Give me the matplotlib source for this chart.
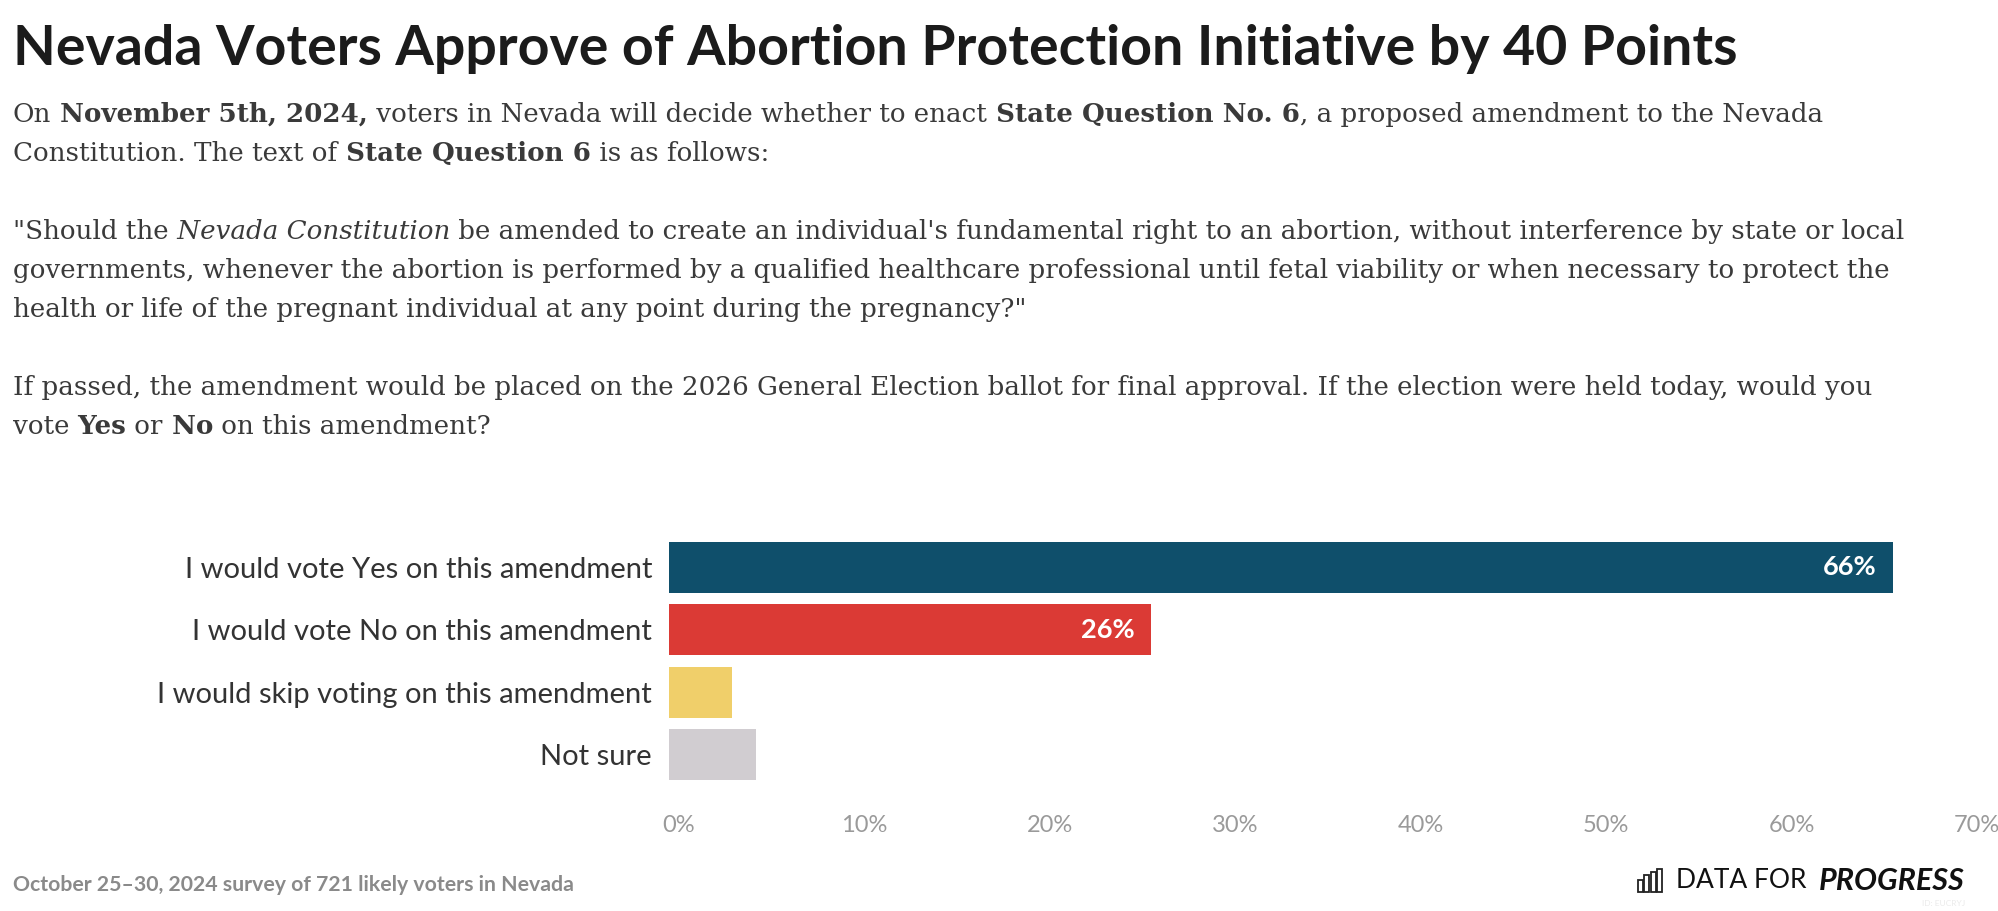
import matplotlib
matplotlib.use("Agg")
import matplotlib.pyplot as plt
from matplotlib.patches import Rectangle
from matplotlib.transforms import ScaledTranslation

# ---- data ----
categories = [
    "I would vote Yes on this amendment",
    "I would vote No on this amendment",
    "I would skip voting on this amendment",
    "Not sure",
]
values = [66, 26, 3.4, 4.7]
value_labels = ["66%", "26%", "", ""]
bar_colors = ["#0f4f6b", "#db3a35", "#f0cf6a", "#d1cdd1"]
xticks = [0, 10, 20, 30, 40, 50, 60, 70]
xtick_labels = [f"{t}%" for t in xticks]

title = "Nevada Voters Approve of Abortion Protection Initiative by 40 Points"
# intro text as runs of (text, style); None is a blank line
intro_lines = [
    [("On", "n"), (" November 5th, 2024,", "b"),
     (" voters in Nevada will decide whether to enact", "n"),
     (" State Question No. 6", "b"), (", a proposed amendment to the Nevada", "n")],
    [("Constitution. The text of", "n"), (" State Question 6", "b"), (" is as follows:", "n")],
    None,
    [("\"Should the", "n"), (" Nevada Constitution", "i"),
     (" be amended to create an individual's fundamental right to an abortion, without interference by state or local", "n")],
    [("governments, whenever the abortion is performed by a qualified healthcare professional until fetal viability or when necessary to protect the", "n")],
    [("health or life of the pregnant individual at any point during the pregnancy?\"", "n")],
    None,
    [("If passed, the amendment would be placed on the 2026 General Election ballot for final approval. If the election were held today, would you", "n")],
    [("vote", "n"), (" Yes", "b"), (" or", "n"), (" No", "b"), (" on this amendment?", "n")],
]
footer = "October 25\u201330, 2024 survey of 721 likely voters in Nevada"

# ---- figure ----
W, H = 1999, 911
fig = plt.figure(figsize=(W / 100, H / 100), dpi=100)
fig.patch.set_facecolor("white")
renderer = fig.canvas.get_renderer()

SANS = "Lato"
SERIF = "DejaVu Serif"

fig.text(13 / W, 1 - 65 / H, title, fontsize=40, fontweight="bold",
         family=SANS, color="#1b1b1b", va="baseline", ha="left")

# intro paragraph, each run placed after the previous one
styles = {"n": dict(fontweight="normal", fontstyle="normal"),
          "b": dict(fontweight="bold", fontstyle="normal"),
          "i": dict(fontweight="normal", fontstyle="italic")}
for k, line in enumerate(intro_lines):
    if line is None:
        continue
    x = 13
    base = 122 + 39 * k
    for seg, st in line:
        t = fig.text(x / W, 1 - base / H, seg, fontsize=18.8, family=SERIF,
                     color="#3a3a3a", va="baseline", ha="left", **styles[st])
        x += t.get_window_extent(renderer).width

# ---- bar chart ----
ax_left, ax_right = 668.7, 1967
ax_top, ax_bot = 536.3, 785.5
ax = fig.add_axes([ax_left / W, 1 - ax_bot / H, (ax_right - ax_left) / W, (ax_bot - ax_top) / H])
ypos = list(range(len(categories)))
ax.barh(ypos, values, height=0.82, color=bar_colors)
ax.set_xlim(0, 70)
ax.set_ylim(len(categories) - 0.5, -0.5)
ax.set_yticks(ypos)
ax.set_yticklabels(categories, fontsize=21, family=SANS, color="#333333")
ax.set_xticks(xticks)
ax.set_xticklabels(xtick_labels, fontsize=17, family=SANS, color="#9a9a9a")
ax.tick_params(axis="y", length=0, pad=12)
ax.tick_params(axis="x", length=0, pad=21)
shift = ScaledTranslation(0.1, 0, fig.dpi_scale_trans)
for lab in ax.get_xticklabels():
    lab.set_transform(lab.get_transform() + shift)
for s in ax.spines.values():
    s.set_visible(False)

for y, v, lab in zip(ypos, values, value_labels):
    if lab:
        ax.annotate(lab, xy=(v, y), xytext=(-12, 0), textcoords="offset points",
                    ha="right", va="center", fontsize=19.5, fontweight="bold",
                    family=SANS, color="white")

# ---- footer ----
fig.text(13 / W, 1 - 885 / H, footer, fontsize=15.3, fontweight="bold",
         family=SANS, color="#8a8a8a", va="center", ha="left")

# logo: small outlined bar icon plus wordmark
icon_bars = [(1638, 12), (1644.5, 17), (1651, 20), (1657.5, 23)]
for bx, bh in icon_bars:
    fig.add_artist(Rectangle((bx / W, 1 - 892 / H), 5 / W, bh / H,
                             transform=fig.transFigure, fill=False,
                             edgecolor="#222222", linewidth=1.3))
fig.text(1965 / W, 1 - 881 / H, "PROGRESS", fontsize=22, fontweight="bold",
         fontstyle="italic", family=SANS, color="#111111", va="center", ha="right")
fig.text(1807 / W, 1 - 881 / H, "DATA FOR", fontsize=19, fontweight="normal",
         family=SANS, color="#111111", va="center", ha="right")
fig.text(1965 / W, 1 - 903 / H, "ID: EUCRYJ", fontsize=6, family=SANS,
         color="#ebebeb", va="center", ha="right")

fig.savefig("out.png", dpi=100, facecolor="white")
